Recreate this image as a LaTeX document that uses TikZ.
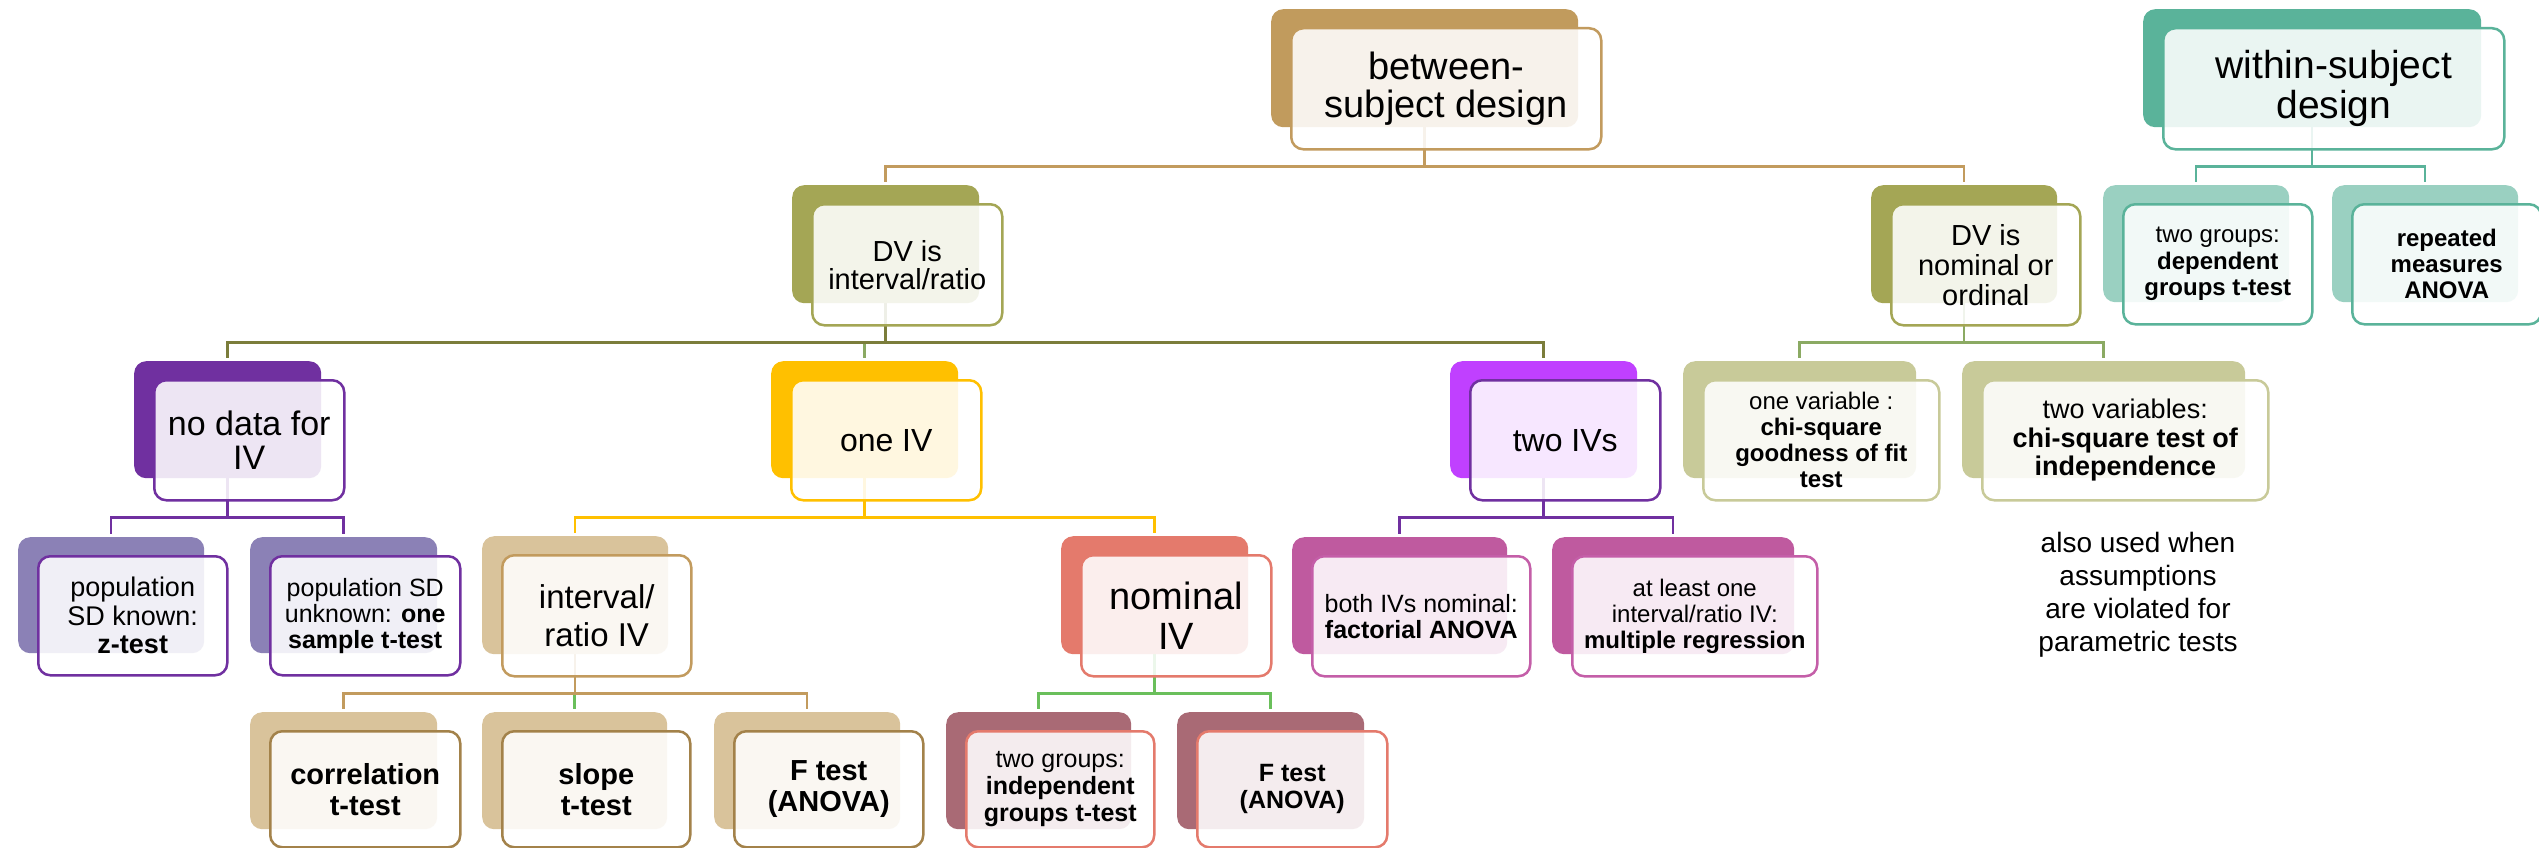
\documentclass[tikz,border=0pt]{standalone}
\usepackage{fontspec}
\setmainfont{Liberation Sans}
\usetikzlibrary{backgrounds}
\definecolor{cBS}{HTML}{C19B5D}
\definecolor{cBSl}{HTML}{C29B5E}
\definecolor{cWS}{HTML}{5AB39A}
\definecolor{cWSl}{HTML}{9AD0C1}
\definecolor{cDV}{HTML}{A4A655}
\definecolor{cDVd}{HTML}{7B7D3B}
\definecolor{cDVg}{HTML}{8BAA63}
\definecolor{cPU}{HTML}{7030A0}
\definecolor{cYE}{HTML}{FFC000}
\definecolor{cMA}{HTML}{C040FF}
\definecolor{cOL}{HTML}{C8CA99}
\definecolor{cLV}{HTML}{8B81B6}
\definecolor{cTN}{HTML}{D9C39B}
\definecolor{cSA}{HTML}{E47A6C}
\definecolor{cPK}{HTML}{BF5A9F}
\definecolor{cPKl}{HTML}{C45EA8}
\definecolor{cBR}{HTML}{A3824A}
\definecolor{cRO}{HTML}{A96A75}
\definecolor{cGR}{HTML}{6ABF5B}
\newcommand\fsz[2]{\fontsize{#1}{#2}\selectfont}
\newcommand\fhadd{+3}
% name, x1, y1, w, h, back colour, border colour, font, text
\newcommand\duo[9]{%
  \node[backbox, fill=#6, minimum width=#4pt, minimum height=#5pt] (#1-b) at (#2,#3) {};
  \node[frontbox, draw=#7, minimum width=#4pt+3pt, minimum height=#5pt\fhadd pt, font=#8] (#1) at (#2+19,#3+18) {#9};
}
\begin{document}
\begin{tikzpicture}[x=1pt,y=-1pt,
  backbox/.style={anchor=north west, rounded corners=12pt, inner sep=0pt, draw=none},
  frontbox/.style={anchor=north west, rounded corners=12pt, inner sep=0pt, fill=white,
    fill opacity=0.88, text opacity=1, draw opacity=1, line width=2.5pt, align=center, text=black},
  conn/.style={draw=#1, line width=2.5pt},
  notetext/.style={align=center, text=black}]
\useasboundingbox (0,0) rectangle (2539,848);

% top level
\duo{bs}{1271}{9}{307}{118}{cBS}{cBSl}{\fsz{38}{38}}{between-\\subject design}
\duo{ws}{2143}{9}{338}{118}{cWS}{cWS}{\fsz{39}{40}}{within-subject\\design}
% level 1
\duo{dvi}{792}{185}{187}{118}{cDV}{cDV}{\fsz{29}{28}}{DV is\\interval/ratio}
\duo{dvn}{1871}{185}{186}{118}{cDV}{cDV}{\fsz{29}{30}}{DV is\\nominal or\\ordinal}
\duo{tg}{2103}{185}{186}{117}{cWSl}{cWS}{\fsz{24}{26.5}}{two groups:\\\textbf{dependent}\\\textbf{groups t-test}}
\duo{rm}{2332}{185}{186}{117}{cWSl}{cWS}{\fsz{24}{26}}{\textbf{repeated}\\\textbf{measures}\\\textbf{ANOVA}}
% level 2
\duo{nd}{134}{361}{187}{117}{cPU}{cPU}{\fsz{34}{34}}{no data for\\IV}
\duo{oiv}{771}{361}{187}{117}{cYE}{cYE}{\fsz{32}{34}}{one IV}
\duo{tiv}{1450}{361}{187}{117}{cMA}{cPU}{\fsz{32}{34}}{two IVs}
\duo{ov}{1683}{361}{233}{117}{cOL}{cOL}{\fsz{24}{26}}{one variable :\\\textbf{chi-square}\\\textbf{goodness of fit}\\\textbf{test}}
\duo{tv}{1962}{361}{283}{117}{cOL}{cOL}{\fsz{27}{28.5}}{two variables:\\\textbf{chi-square test of}\\\textbf{independence}}
% level 3
\duo{pk}{18}{537}{186}{116}{cLV}{cPU}{\fsz{27}{28.5}}{population\\SD known:\\\textbf{z-test}}
\duo{pu}{250}{537}{187}{116}{cLV}{cPU}{\fsz{25}{26}}{population SD\\unknown: \textbf{one}\\\textbf{sample t-test}}
\duo{iri}{482}{536}{186}{118}{cTN}{cBSl}{\fsz{33}{38}}{interval/\\ratio IV}
\duo{niv}{1061}{536}{187}{118}{cSA}{cSA}{\fsz{38}{40}}{nominal\\IV}
\duo{bn}{1292}{537}{215}{117}{cPK}{cPKl}{\fsz{25}{26}}{both IVs nominal:\\\textbf{factorial ANOVA}}
\duo{al}{1552}{537}{242}{117}{cPK}{cPKl}{\fsz{24}{26}}{at least one\\interval/ratio IV:\\\textbf{multiple regression}}
% level 4
\renewcommand\fhadd{-1}
\duo{cor}{250}{712}{187}{117}{cTN}{cBR}{\fsz{29}{31}}{\textbf{correlation}\\\textbf{t-test}}
\duo{slo}{482}{712}{185}{117}{cTN}{cBR}{\fsz{29}{31}}{\textbf{slope}\\\textbf{t-test}}
\duo{ft1}{714}{712}{186}{117}{cTN}{cBR}{\fsz{29}{31}}{\textbf{F test}\\\textbf{(ANOVA)}}
\duo{tgi}{946}{712}{185}{117}{cRO}{cSA}{\fsz{25}{27}}{two groups:\\\textbf{independent}\\\textbf{groups t-test}}
\duo{ft2}{1177}{712}{187}{117}{cRO}{cSA}{\fsz{25}{27}}{\textbf{F test}\\\textbf{(ANOVA)}}

\node[notetext, font=\fsz{28}{33}] (note) at (2138,595) {also used when\\assumptions\\are violated for\\parametric tests};

\begin{pgfonlayer}{background}
\fill[white] (0,0) rectangle (2539,848);
% between-subject
\draw[conn=cBSl] (bs-b.south) -- ++(0,39) -| ([yshift=3pt]dvi-b.north);
\draw[conn=cBSl] (bs-b.south) -- ++(0,39) -| ([yshift=3pt]dvn-b.north);
% within-subject
\draw[conn=cWS] (ws-b.south) -- ++(0,39) -| ([yshift=3pt]tg-b.north);
\draw[conn=cWS] (ws-b.south) -- ++(0,39) -| ([yshift=3pt]rm-b.north);
% DV interval
\draw[conn=cDVg] (dvi-b.south) -- ++(0,39) -| ([yshift=3pt]oiv-b.north);
\draw[conn=cDVd] (dvi-b.south) -- ++(0,39) -| ([yshift=3pt]nd-b.north);
\draw[conn=cDVd] (dvi-b.south) -- ++(0,39) -| ([yshift=3pt]tiv-b.north);
% DV nominal
\draw[conn=cDVg] (dvn-b.south) -- ++(0,39) -| ([yshift=3pt]ov-b.north);
\draw[conn=cDVg] (dvn-b.south) -- ++(0,39) -| ([yshift=3pt]tv-b.north);
% no data
\draw[conn=cPU] (nd-b.south) -- ++(0,39) -| ([yshift=3pt]pk-b.north);
\draw[conn=cPU] (nd-b.south) -- ++(0,39) -| ([yshift=3pt]pu-b.north);
% one IV
\draw[conn=cYE] (oiv-b.south) -- ++(0,39) -| ([yshift=3pt]iri-b.north);
\draw[conn=cYE] (oiv-b.south) -- ++(0,39) -| ([yshift=3pt]niv-b.north);
% two IVs
\draw[conn=cPU] (tiv-b.south) -- ++(0,39) -| ([yshift=3pt]bn-b.north);
\draw[conn=cPU] (tiv-b.south) -- ++(0,39) -| ([yshift=3pt]al-b.north);
% interval/ratio IV
\draw[conn=cGR] (iri-b.south) -- ++(0,39) -| ([yshift=3pt]slo-b.north);
\draw[conn=cBSl] (iri-b.south) -- ++(0,39) -| ([yshift=3pt]cor-b.north);
\draw[conn=cBSl] (iri-b.south) -- ++(0,39) -| ([yshift=3pt]ft1-b.north);
% nominal IV
\draw[conn=cGR] (niv-b.south) -- ++(0,39) -| ([yshift=3pt]tgi-b.north);
\draw[conn=cGR] (niv-b.south) -- ++(0,39) -| ([yshift=3pt]ft2-b.north);
\end{pgfonlayer}
\end{tikzpicture}
\end{document}
